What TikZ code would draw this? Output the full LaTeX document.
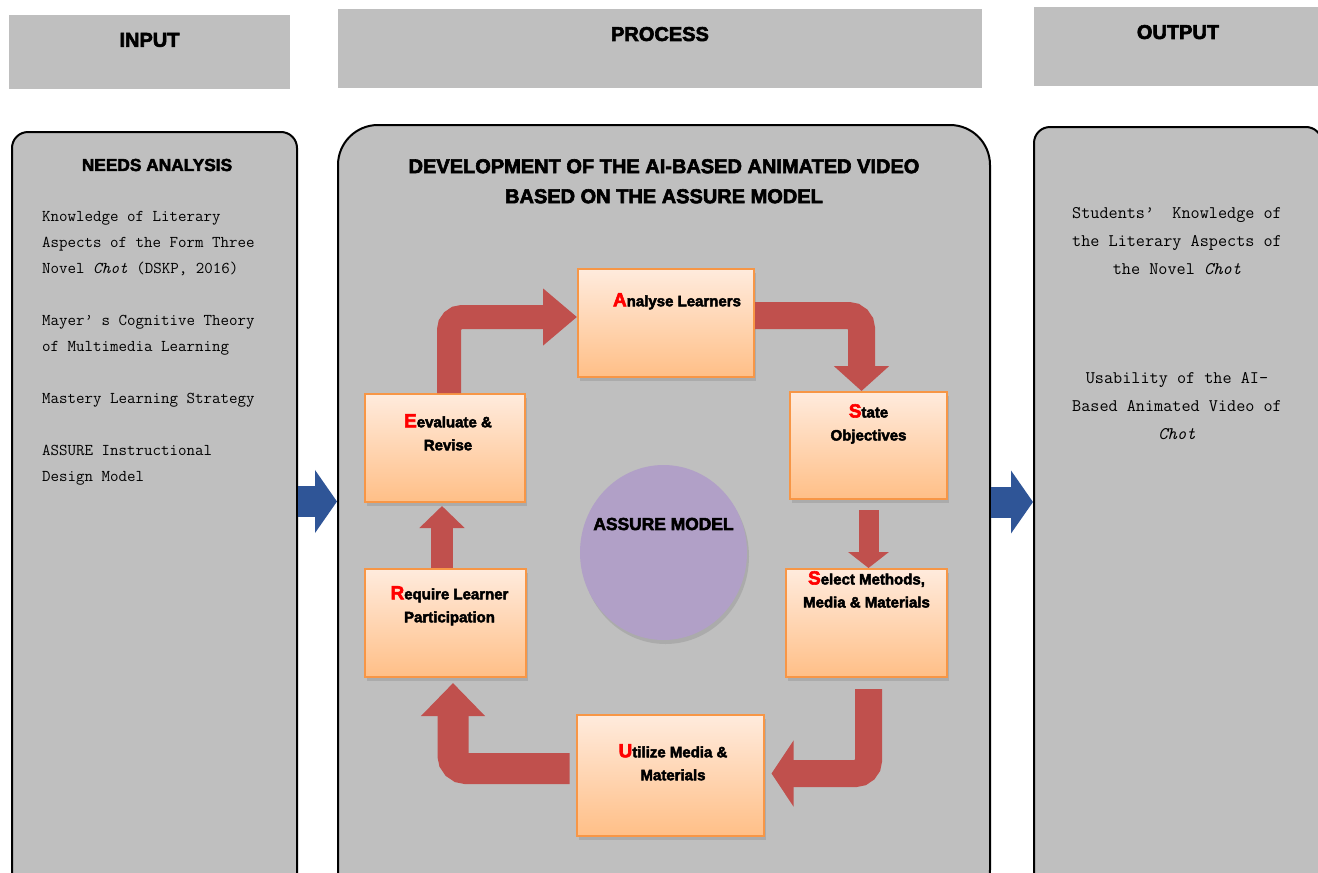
\documentclass[tikz,border=0pt]{standalone}
\usepackage{fontspec}
\newfontfamily\heavy{Liberation Sans Bold}[FakeBold=3]
\usetikzlibrary{arrows.meta,positioning,shadows,shapes.geometric}
\definecolor{panelgray}{HTML}{BFBFBF}
\definecolor{boxline}{HTML}{F79646}
\definecolor{boxtop}{HTML}{FFEBDD}
\definecolor{boxbot}{HTML}{FFBF87}
\definecolor{arrowred}{HTML}{C0504D}
\definecolor{arrowblue}{HTML}{2F5597}
\definecolor{ovalfill}{HTML}{B1A0C7}
\newcommand{\firstletter}[1]{{\fontsize{19}{23}\selectfont\color{red}#1}}

\begin{document}
\begin{tikzpicture}[
  x=1pt, y=-1pt,
  headbox/.style={fill=panelgray, inner sep=0pt},
  headtext/.style={font=\heavy\fontsize{20}{24}\selectfont, inner sep=0pt},
  panel/.style={draw, line width=2pt, fill=panelgray, inner sep=0pt},
  titletext/.style={font=\heavy\fontsize{20}{30}\selectfont, align=center, inner sep=0pt},
  bodytext/.style={font=\ttfamily\fontsize{16.5}{26}\selectfont, align=left, inner sep=0pt},
  outtext/.style={font=\ttfamily\fontsize{17.7}{28}\selectfont, align=center, inner sep=0pt},
  stepbox/.style={
    draw=boxline, line width=2pt,
    top color=boxtop, bottom color=boxbot,
    drop shadow={shadow xshift=2pt, shadow yshift=-4pt, opacity=0.3}
  },
  steptext/.style={font=\heavy\fontsize{15}{23}\selectfont, align=center, inner sep=0pt},
  redarrow/.style={draw=arrowred, rounded corners=13pt},
  bluearrow/.style={draw=arrowblue, line width=31pt, -{Triangle[length=22pt,width=62pt]}}
]
\path[use as bounding box] (0,0) rectangle (1318,873);
\clip (0,0) rectangle (1318,873);

% headers
\node[headbox, minimum width=281pt, minimum height=74pt] (inhead) at (149.5,52) {};
\node[headbox, minimum width=644pt, minimum height=79pt] (prhead) at (660,48.5) {};
\node[headbox, minimum width=284pt, minimum height=79pt] (ouhead) at (1176,46.5) {};
\node[headtext, below=18pt of inhead.north] (inlbl) {INPUT};
\node[headtext, below=18pt of prhead.north] (prlbl) {PROCESS};
\node[headtext, below=18pt of ouhead.north, xshift=2pt] (oulbl) {OUTPUT};

% panels
\node[panel, rounded corners=16pt, minimum width=285pt, minimum height=778pt] (inbox) at (154.5,521) {};
\node[panel, rounded corners=40pt, minimum width=652pt, minimum height=785pt] (prbox) at (664,517.5) {};
\node[panel, rounded corners=16pt, minimum width=288pt, minimum height=783pt] (oubox) at (1178,518.5) {};

\draw[bluearrow] ([yshift=19.5pt]inbox.east) -- ([yshift=19.5pt]inbox.east -| prbox.west);
\draw[bluearrow] ([yshift=15.5pt]prbox.east) -- ([yshift=15.5pt]prbox.east -| oubox.west);

% input side
\node[font=\heavy\fontsize{17.3}{20}\selectfont, inner sep=0pt] (needs) at (157,165) {NEEDS ANALYSIS};
\node[bodytext, anchor=north west] (inputs) at (42,211)
{Knowledge of Literary\\
Aspects of the Form Three\\
Novel \textit{Chot} (DSKP, 2016)\\[26pt]
Mayer’ s Cognitive Theory\\
of Multimedia Learning\\[26pt]
Mastery Learning Strategy\\[26pt]
ASSURE Instructional\\
Design Model};

% process title
\node[titletext, below=35pt of prbox.north] (title)
{DEVELOPMENT OF THE AI-BASED ANIMATED VIDEO\\BASED ON THE ASSURE MODEL};

% ASSURE steps
\node[stepbox, minimum width=176pt, minimum height=108pt] (an) at (666,323) {};
\node[stepbox, minimum width=157pt, minimum height=107pt] (st) at (868.5,445.5) {};
\node[stepbox, minimum width=161pt, minimum height=108pt] (se) at (866.5,623) {};
\node[stepbox, minimum width=187pt, minimum height=121pt] (ut) at (670,775.5) {};
\node[stepbox, minimum width=161pt, minimum height=108pt] (rq) at (445.5,623) {};
\node[stepbox, minimum width=160pt, minimum height=108pt] (ev) at (445,448) {};

\node[steptext, below=25pt of an.north, xshift=11pt] (anT) {\firstletter{A}nalyse Learners};
\node[steptext, below=13pt of st.north] (stT) {\firstletter{S}tate\\Objectives};
\node[steptext, below=3pt of se.north] (seT) {\firstletter{S}elect Methods,\\Media \& Materials};
\node[steptext, below=30pt of ut.north, xshift=3pt] (utT) {\firstletter{U}tilize Media \&\\Materials};
\node[steptext, below=18pt of rq.north, xshift=4pt] (rqT) {\firstletter{R}equire Learner\\Participation};
\node[steptext, below=21pt of ev.north, xshift=3pt] (evT) {\firstletter{E}evaluate \&\\Revise};

\node[ellipse, fill=ovalfill, minimum width=167pt, minimum height=175pt,
  drop shadow={shadow xshift=2pt, shadow yshift=-4pt, opacity=0.3}] (oval) at (663.5,552.5) {};
\node[font=\heavy\fontsize{17.4}{20}\selectfont, inner sep=0pt] (ovalT) at ([yshift=28.5pt]oval.center) {ASSURE MODEL};

% cycle arrows
\draw[redarrow, line width=24pt, -{Triangle[length=34pt,width=55pt]}]
  ([xshift=4pt]ev.north) |- ([yshift=6pt]an.west);
\draw[redarrow, line width=27pt, -{Triangle[length=25pt,width=54pt]}]
  ([yshift=7.5pt]an.east) -| ([xshift=-7pt]st.north);
\draw[redarrow, line width=20pt, shorten <=10pt, -{Triangle[length=16pt,width=40pt]}]
  (st.south) -- (st.south |- se.north);
\draw[redarrow, line width=27pt, shorten <=11pt, shorten >=7pt, -{Triangle[length=22pt,width=65pt]}]
  ([xshift=2pt]se.south) |- ([yshift=2pt]ut.east);
\draw[redarrow, line width=31pt, shorten <=6pt, shorten >=5pt, -{Triangle[length=33pt,width=62pt]}]
  ([yshift=7pt]ut.west) -| ([xshift=7.5pt]rq.south);
\draw[redarrow, line width=22pt, shorten >=3pt, -{Triangle[length=22pt,width=44pt]}]
  ([xshift=-3.5pt]rq.north) -- ([xshift=-3.5pt]rq.north |- ev.south);

% output side
\node[outtext, anchor=north] (out1) at (1177,207)
{Students’~ Knowledge of\\the Literary Aspects of\\the Novel \textit{Chot}};
\node[outtext, anchor=north] (out2) at (1177,372)
{Usability of the AI-\\Based Animated Video of\\\textit{Chot}};
\end{tikzpicture}
\end{document}
